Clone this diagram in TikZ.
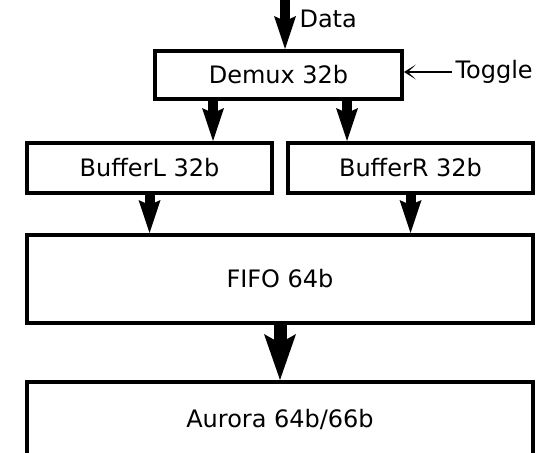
\documentclass[tikz,border=0pt]{standalone}
\usepackage{fontspec}
\setmainfont{DejaVu Sans}
\usetikzlibrary{arrows.meta,positioning,calc}

\begin{document}
\begin{tikzpicture}[x=1pt, y=-1pt,
    font=\fontsize{24}{29}\selectfont,
    block/.style={draw, line width=4pt, inner sep=0pt},
    bus/.style={line width=10pt, -{Stealth[length=33pt,width=22pt,inset=5pt,line width=0pt]}},
    widebus/.style={line width=13pt, -{Stealth[length=46pt,width=32pt,inset=9pt,line width=0pt]}},
    ctrl/.style={line width=2pt, -{Stealth[length=12pt,width=15pt,inset=8pt,line width=0pt]}}]
    \useasboundingbox (0,0) rectangle (537,452);

    % Blocks
    \node[block, minimum width=247pt, minimum height=48pt] (demux) at (278.5,75) {Demux 32b};
    \node[block, minimum width=245pt, minimum height=50pt] (bufL) at (149.5,168) {BufferL 32b};
    \node[block, minimum width=245pt, minimum height=50pt] (bufR) at (410.5,168) {BufferR 32b};
    \node[block, minimum width=506pt, minimum height=88pt] (fifo) at (280,279) {FIFO 64b};
    \node[block, minimum width=506pt, minimum height=74pt] (aurora) at (280,419) {Aurora 64b/66b};

    % Inputs
    \coordinate (datain) at (285,0);
    \node[anchor=west] (data) at (296,19) {Data};
    \node[anchor=west] (toggle) at (452,72) {Toggle};
    \draw[bus] (datain) -- (datain |- demux.north);
    \draw[ctrl] (toggle.west) -- (toggle -| demux.east);

    % Demux to buffers
    \coordinate (dl) at ([xshift=60pt]demux.south west);
    \coordinate (dr) at ([xshift=-57pt]demux.south east);
    \draw[bus] (dl) -- (dl |- bufL.north);
    \draw[bus] (dr) -- (dr |- bufR.north);

    % Buffers to FIFO
    \draw[bus] (bufL.south) -- (bufL.south |- fifo.north);
    \draw[bus] (bufR.south) -- (bufR.south |- fifo.north);

    % FIFO to link
    \draw[widebus] (fifo.south) -- (aurora.north);
\end{tikzpicture}
\end{document}
